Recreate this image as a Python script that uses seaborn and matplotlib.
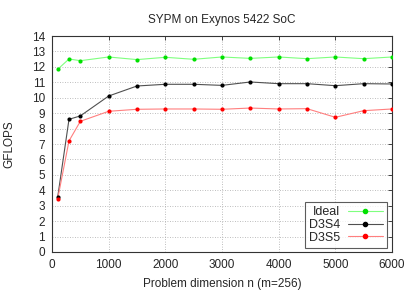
import pandas as pd
import numpy as np
import matplotlib
matplotlib.use("Agg")
import matplotlib.pyplot as plt
import seaborn as sns
from matplotlib.lines import Line2D

n_values = [100, 300, 500, 1000, 1500, 2000, 2500, 3000, 3500, 4000, 4500, 5000, 5500, 6000]
ideal = [11.84, 12.51, 12.40, 12.64, 12.47, 12.62, 12.49, 12.64, 12.55, 12.64, 12.53, 12.64, 12.53, 12.64]
d3s4 = [3.55, 8.60, 8.82, 10.11, 10.76, 10.87, 10.87, 10.80, 11.02, 10.91, 10.91, 10.78, 10.91, 10.89]
d3s5 = [3.44, 7.20, 8.47, 9.12, 9.25, 9.27, 9.27, 9.25, 9.33, 9.27, 9.29, 8.73, 9.16, 9.27]

series_names = ["Ideal", "D3S4", "D3S5"]
line_colors = {"Ideal": "#7fff7f", "D3S4": "#505050", "D3S5": "#ff7f7f"}
marker_colors = {"Ideal": "#00e000", "D3S4": "#000000", "D3S5": "#ff0000"}

df = pd.DataFrame({
    "n": n_values * 3,
    "gflops": ideal + d3s4 + d3s5,
    "series": np.repeat(series_names, len(n_values)),
})

sns.set_style("white")
plt.rcParams["font.family"] = ["Liberation Sans", "DejaVu Sans"]
fs = 8.5

fig = plt.figure(figsize=(4.15, 2.91), dpi=100)
ax = fig.add_axes([52 / 415, 1 - 252 / 291, 340 / 415, 216 / 291])

sns.lineplot(data=df, x="n", y="gflops", hue="series", hue_order=series_names,
             palette=line_colors, linewidth=0.8, ax=ax, legend=False)
for name in series_names:
    sub = df[df["series"] == name]
    ax.scatter(sub["n"], sub["gflops"], s=9, color=marker_colors[name], zorder=3, linewidths=0)

# gnuplot style key: right-justified text, sample on the right
handles = [Line2D([0], [0], color=line_colors[s], lw=0.8, marker="o", markersize=3,
                  markerfacecolor=marker_colors[s], markeredgecolor=marker_colors[s]) for s in series_names]
leg = ax.legend(handles, series_names, loc="lower right", markerfirst=False, frameon=True,
                fancybox=False, edgecolor="#333333", handlelength=2.8, borderpad=0.35,
                labelspacing=0.06, handletextpad=0.6, borderaxespad=0,
                bbox_to_anchor=(335 / 340, 4 / 216), fontsize=fs + 0.5, alignment="right")
leg.get_frame().set_linewidth(0.8)
for t in leg.get_texts():
    t.set_ha("right")

ax.set_xlim(0, 6000)
ax.set_ylim(0, 14)
ax.set_xticks(range(0, 6001, 1000))
ax.set_yticks(range(0, 15))
ax.grid(True, color="#a8a8a8", linestyle=(0, (1, 2)), linewidth=0.6)
ax.tick_params(direction="in", top=True, right=True, length=3, width=0.6, pad=5, labelsize=fs)
for spine in ax.spines.values():
    spine.set_color("#333333")
    spine.set_linewidth(0.8)

ax.set_title("SYPM on Exynos 5422 SoC", fontsize=fs, pad=9)
ax.set_xlabel("Problem dimension n (m=256)", fontsize=fs, labelpad=5)
ax.set_ylabel("GFLOPS", fontsize=fs, labelpad=12)

fig.savefig("out.png", dpi=100)
